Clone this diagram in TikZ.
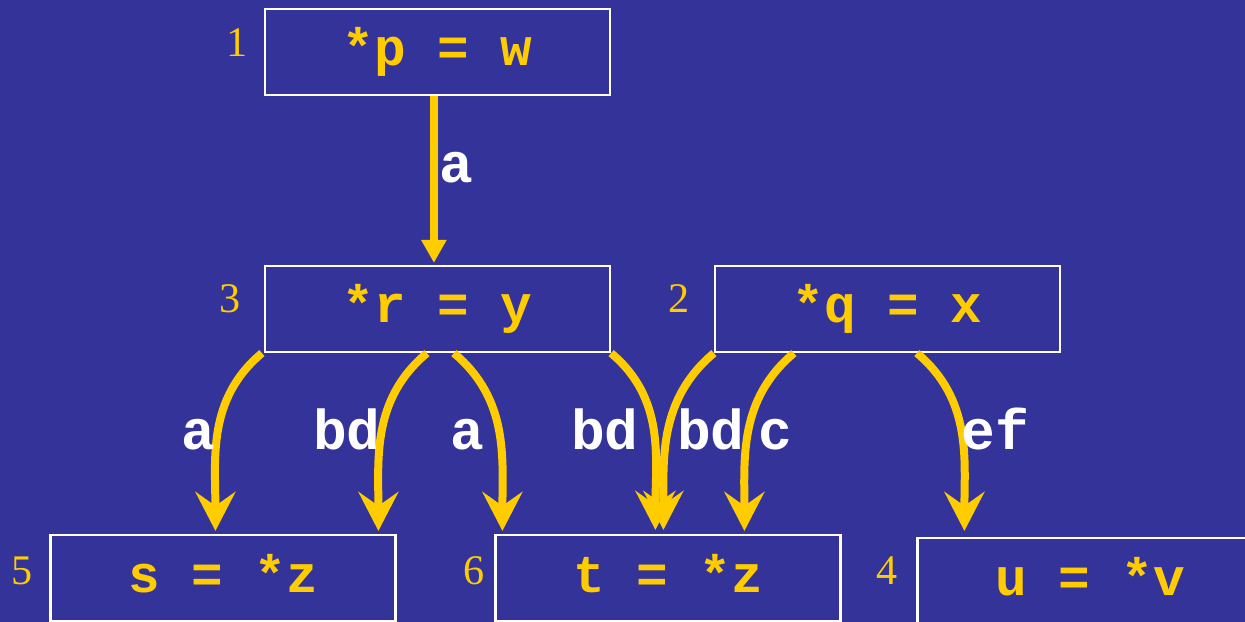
\documentclass[tikz,border=0pt]{standalone}
\usepackage{fontspec}
\newfontfamily\courfont{Liberation Mono}
\newfontfamily\timesfont{Liberation Serif}
\usetikzlibrary{arrows.meta,calc}
\definecolor{bg}{RGB}{51,51,153}
\definecolor{gold}{RGB}{255,204,0}
\begin{document}
\begin{tikzpicture}[x=0.02cm,y=-0.02cm,
  stmt/.style={draw=white, line width=0.045cm, minimum width=6.9cm, minimum height=1.72cm,
    inner sep=0pt, text=gold, font=\courfont\bfseries\fontsize{30pt}{36pt}\selectfont,
    text height=0.56cm, text depth=0pt},
  num/.style={text=gold, font=\timesfont\fontsize{24pt}{28pt}\selectfont, anchor=base, inner sep=0pt},
  lbl/.style={text=white, font=\courfont\bfseries\fontsize{32pt}{36pt}\selectfont, anchor=base, inner sep=0pt},
  flow/.style={draw=gold, line width=0.16cm, -{Stealth[length=0.78cm,width=0.8cm,inset=0.28cm]}},
  flowstraight/.style={draw=gold, line width=0.16cm, -{Triangle[length=0.46cm,width=0.48cm]}}
]
\clip (0,0) rectangle (1245,622);
\fill[bg] (0,0) rectangle (1245,622);
\useasboundingbox (0,0) rectangle (1245,622);

% statement boxes
\node[stmt] (n1) at (437.5,52) {*p = w};
\node[stmt] (n3) at (437.5,309) {*r = y};
\node[stmt] (n2) at (887.5,309) {*q = x};
\node[stmt] (n5) at (223,578) {s = *z};
\node[stmt] (n6) at (668,578) {t = *z};
\node[stmt] (n4) at (1090,581) {u = *v};

% numbers
\node[num] (k1) at (237,56) {1};
\node[num] (k3) at (230,312) {3};
\node[num] (k2) at (679,312) {2};
\node[num] (k5) at (22,584) {5};
\node[num] (k6) at (474,584) {6};
\node[num] (k4) at (887,584) {4};

% connectors
\draw[flowstraight] ($(n1.south west)+(170,0)$) -- ($(n3.north west)+(170,-2)$);
\draw[flow] ($(n3.south west)+(-2,0)$) to[out=-140,in=90] ($(n5.north west)+(166,-3)$);
\draw[flow] ($(n3.south west)+(163,0)$) to[out=-140,in=90] ($(n5.north west)+(329,-3)$);
\draw[flow] ($(n3.south west)+(190,0)$) to[out=-40,in=90] ($(n6.north west)+(8,-3)$);
\draw[flow] ($(n3.south east)+(0,0)$) to[out=-40,in=90] ($(n6.north west)+(161,-4)$);
\draw[flow] (n2.south west) to[out=-140,in=90] ($(n6.north west)+(169,-4)$);
\draw[flow] ($(n2.south west)+(80,0)$) to[out=-140,in=90] ($(n6.north west)+(250,-3)$);
\draw[flow] ($(n2.south west)+(203,0)$) to[out=-40,in=90] ($(n4.north west)+(48,-6)$);

% edge labels
\node[lbl] (l1) at (456,182) {a};
\node[lbl] (l2) at (198,449) {a};
\node[lbl] (l3) at (347,449) {bd};
\node[lbl] (l4) at (467,449) {a};
\node[lbl] (l5) at (605,449) {bd};
\node[lbl] (l6) at (711,449) {bd};
\node[lbl] (l7) at (775,449) {c};
\node[lbl] (l8) at (995,449) {ef};
\end{tikzpicture}
\end{document}
